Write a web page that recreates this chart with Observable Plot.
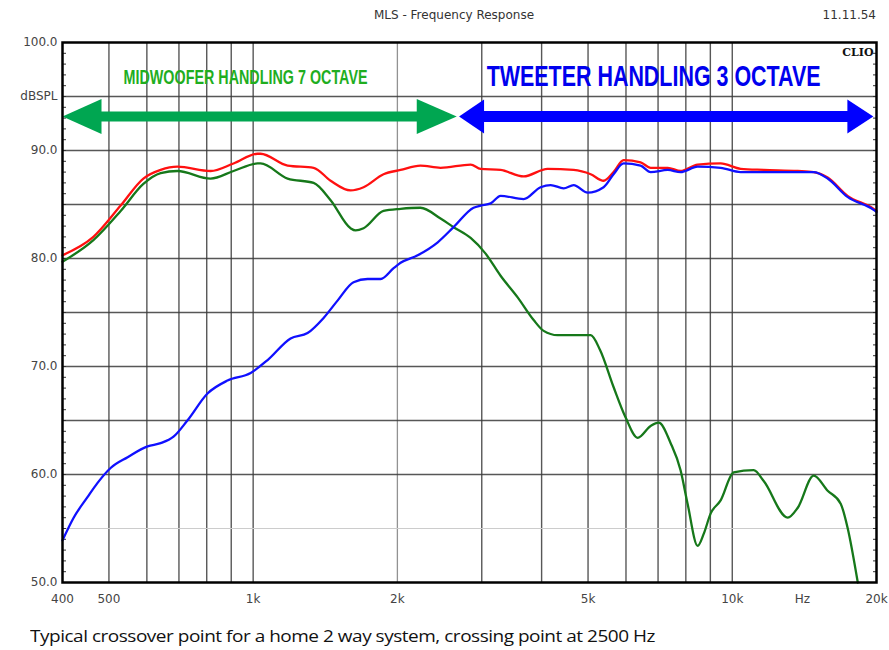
<!DOCTYPE html>
<html>
<head>
<meta charset="utf-8">
<script src="https://cdn.jsdelivr.net/npm/d3@7"></script>
<script src="https://cdn.jsdelivr.net/npm/@observablehq/plot@0.6"></script>
<style>
  html, body { margin: 0; padding: 0; background: #fff; }
  #wrap { position: relative; width: 889px; height: 650px; overflow: hidden; }
  #title { position: absolute; top: 8px; left: 454px; transform: translateX(-50%); font: 12px "DejaVu Sans", sans-serif; color: #333; white-space: nowrap; }
  #date { position: absolute; top: 8px; right: 13px; font: 12px "DejaVu Sans", sans-serif; color: #333; }
  #chart { position: absolute; top: 26px; left: 0; }
  #caption { position: absolute; top: 625px; left: 30px; font: 16px "Open Sans", sans-serif; color: #111; white-space: nowrap; letter-spacing: -0.4px; transform-origin: 0 0; }
</style>
</head>
<body>
<div id="wrap">
  <div id="title">MLS - Frequency Response</div>
  <div id="date">11.11.54</div>
  <div id="chart"></div>
  <div id="caption">Typical crossover point for a home 2 way system, crossing point at 2500 Hz</div>
</div>
<script>
// ---- Data ----
const redFreq = [400, 464, 529, 590, 641, 695, 815, 910, 1021, 1036, 1180, 1337, 1451, 1597, 1700, 1871, 2031, 2234, 2461, 2844, 2984, 3284, 3669, 4117, 4665, 5064, 5388, 5652, 5932, 6437, 6756, 7333, 7800, 8467, 9456, 10411, 11631, 13690, 14788, 15815, 17400, 19730, 20000];
const redDb   = [80.3, 82.0, 84.9, 87.4, 88.2, 88.5, 88.1, 88.8, 89.7, 89.7, 88.6, 88.4, 87.2, 86.3, 86.6, 87.8, 88.2, 88.6, 88.4, 88.7, 88.3, 88.2, 87.6, 88.3, 88.2, 87.8, 87.2, 88.0, 89.1, 88.9, 88.4, 88.4, 88.1, 88.7, 88.8, 88.3, 88.2, 88.1, 88.0, 87.5, 85.8, 84.6, 84.4];

const midFreq = [400, 464, 529, 590, 641, 695, 815, 910, 1021, 1036, 1180, 1337, 1451, 1597, 1636, 1700, 1871, 2031, 2234, 2461, 2620, 2844, 3050, 3284, 3565, 3850, 4039, 4320, 5064, 5300, 5652, 5987, 6346, 6756, 7021, 7437, 7800, 8067, 8467, 8717, 9015, 9456, 10068, 11082, 11631, 13052, 13690, 14788, 15815, 16838, 17400, 18280];
const midDb   = [79.7, 81.7, 84.4, 86.9, 87.9, 88.1, 87.4, 88.1, 88.8, 88.8, 87.4, 87.0, 85.4, 82.8, 82.6, 82.8, 84.4, 84.6, 84.7, 83.7, 82.9, 81.9, 80.5, 78.4, 76.4, 74.3, 73.3, 72.9, 72.9, 71.5, 68.1, 65.3, 63.4, 64.5, 64.8, 62.9, 60.4, 57.3, 53.4, 54.5, 56.4, 57.6, 60.2, 60.4, 59.4, 56.0, 56.9, 59.9, 58.5, 57.3, 55.1, 50.0];

const twFreq = [400, 422, 451, 473, 504, 547, 602, 641, 682, 729, 803, 884, 988, 1072, 1197, 1299, 1403, 1500, 1620, 1733, 1845, 1964, 2031, 2205, 2428, 2620, 2884, 2984, 3131, 3284, 3669, 3980, 4178, 4447, 4665, 4991, 5388, 5652, 5932, 6437, 6756, 7333, 7800, 8467, 9456, 10411, 11631, 14788, 15815, 17400, 19730, 20000];
const twDb   = [53.9, 56.0, 57.9, 59.2, 60.6, 61.6, 62.6, 62.9, 63.5, 65.0, 67.5, 68.7, 69.4, 70.6, 72.6, 73.1, 74.5, 76.1, 77.8, 78.1, 78.1, 79.1, 79.6, 80.3, 81.5, 82.9, 84.7, 84.9, 85.1, 85.8, 85.5, 86.6, 86.8, 86.5, 86.8, 86.1, 86.6, 87.8, 88.8, 88.6, 88.0, 88.2, 88.0, 88.5, 88.4, 88.0, 88.0, 88.0, 87.4, 85.7, 84.5, 84.3];

// axis ticks and grid
const xTickValues = [400, 500, 1000, 2000, 5000, 10000, 14000, 20000];
const xTickLabels = ["400", "500", "1k", "2k", "5k", "10k", "Hz", "20k"];
const xGrid = [500, 600, 700, 800, 900, 1000, 3000, 4000, 5000, 6000, 7000, 8000, 9000, 10000];
const xGridLight = [2000];
const yGrid = [60, 65, 70, 75, 80, 85, 90, 95];
const yGridLight = [55];
const yTickValues = [50, 60, 70, 80, 90, 95, 100];
const yTickLabels = ["50.0", "60.0", "70.0", "80.0", "90.0", "dBSPL", "100.0"];
const yMinor = d3.range(50, 101, 1);

// arrow annotations
const arrowNames = ["MIDWOOFER HANDLING 7 OCTAVE", "TWEETER HANDLING 3 OCTAVE"];
const arrowFrom = [400, 2690];
const arrowTo = [2660, 19700];
const arrowDb = [93.15, 93.15];
const labelFreq = [964, 6852];
const labelDb = [96.7, 96.8];

// ---- Build tables ----
const series = [
  ...redFreq.map((f, i) => ({f, db: redDb[i], s: "sum"})),
  ...midFreq.map((f, i) => ({f, db: midDb[i], s: "mid"})),
  ...twFreq.map((f, i) => ({f, db: twDb[i], s: "tw"}))
];
const arrows = arrowNames.map((name, i) => ({name, from: arrowFrom[i], to: arrowTo[i], db: arrowDb[i], lf: labelFreq[i], ldb: labelDb[i]}));

function head(L, H, dir) {
  return {draw(ctx) {
    ctx.moveTo(0, 0);
    ctx.lineTo(dir * L, -H / 2);
    ctx.lineTo(dir * L, H / 2);
    ctx.closePath();
  }};
}
const greenArrow = "#00a651";
const blueArrow = "#0000ff";

const chart = Plot.plot({
  width: 889,
  height: 586,
  marginLeft: 62,
  marginRight: 13,
  marginTop: 16,
  marginBottom: 30,
  style: {fontFamily: "DejaVu Sans, sans-serif", fontSize: "12px", color: "#333", background: "white"},
  x: {type: "log", domain: [400, 20000]},
  y: {domain: [50, 100]},
  marks: [
    Plot.ruleX(xGrid, {stroke: "#3a3a3a", strokeWidth: 1.4, strokeOpacity: 0.85}),
    Plot.ruleX(xGridLight, {stroke: "#777", strokeWidth: 1.3, strokeOpacity: 0.8}),
    Plot.ruleY(yGrid, {stroke: "#3a3a3a", strokeWidth: 1.4, strokeOpacity: 0.85}),
    Plot.ruleY(yGridLight, {stroke: "#ccc", strokeWidth: 1}),
    Plot.axisY(yMinor, {anchor: "left", tickSize: -4, tickFormat: () => "", label: null, stroke: "#333"}),
    Plot.axisY(yMinor, {anchor: "right", tickSize: -4, tickFormat: () => "", label: null, stroke: "#333"}),
    Plot.axisY(yTickValues, {anchor: "left", tickSize: 0, tickPadding: 5, tickFormat: (d) => yTickLabels[yTickValues.indexOf(d)], label: null, fill: "#444"}),
    Plot.axisX(xTickValues, {anchor: "bottom", tickSize: 0, tickPadding: 12, tickFormat: (d) => xTickLabels[xTickValues.indexOf(d)], label: null, fill: "#444"}),
    // arrows
    Plot.ruleY(arrows.slice(0, 1), {y: "db", x1: "from", x2: "to", insetLeft: 34, insetRight: 34, stroke: greenArrow, strokeWidth: 10}),
    Plot.ruleY(arrows.slice(1), {y: "db", x1: "from", x2: "to", insetLeft: 20, insetRight: 20, stroke: blueArrow, strokeWidth: 11}),
    Plot.dot(arrows.slice(0, 1), {x: "from", y: "db", symbol: head(39, 35, 1), fill: greenArrow, stroke: "none", r: 1}),
    Plot.dot(arrows.slice(0, 1), {x: "to", y: "db", symbol: head(40, 35, -1), fill: greenArrow, stroke: "none", r: 1}),
    Plot.dot(arrows.slice(1), {x: "from", y: "db", symbol: head(25, 34, 1), fill: blueArrow, stroke: "none", r: 1}),
    Plot.dot(arrows.slice(1), {x: "to", y: "db", symbol: head(26, 34, -1), fill: blueArrow, stroke: "none", r: 1}),
    Plot.text(arrows.slice(0, 1), {x: "lf", y: "ldb", text: "name", fill: "#1fae1f", fontSize: 19.5, fontWeight: "bold", fontFamily: "Liberation Sans Narrow, Liberation Sans, sans-serif"}),
    Plot.text(arrows.slice(1), {x: "lf", y: "ldb", text: "name", fill: "#0000ee", fontSize: 29, fontWeight: "bold", fontFamily: "Liberation Sans Narrow, Liberation Sans, sans-serif"}),
    Plot.text(["CLIO"], {frameAnchor: "top-right", dx: -3, dy: 6, fontFamily: "DejaVu Serif, serif", fontWeight: "bold", fontSize: 11, fill: "#111", textAnchor: "end"}),
    // curves
    Plot.line(series, {filter: (d) => d.s === "sum", x: "f", y: "db", stroke: "#ff1010", strokeWidth: 2.3, curve: "monotone-x"}),
    Plot.line(series, {filter: (d) => d.s === "mid", x: "f", y: "db", stroke: "#16781a", strokeWidth: 2.3, curve: "monotone-x"}),
    Plot.line(series, {filter: (d) => d.s === "tw", x: "f", y: "db", stroke: "#1010ff", strokeWidth: 2.3, curve: "monotone-x"}),
    Plot.frame({stroke: "#000", strokeWidth: 2.5})
  ]
});
document.getElementById("chart").appendChild(chart);

// squeeze the condensed arrow captions horizontally to the reference widths
const widths = {"MIDWOOFER HANDLING 7 OCTAVE": 244, "TWEETER HANDLING 3 OCTAVE": 334};
chart.querySelectorAll("text").forEach((t) => {
  const w = widths[t.textContent];
  if (!w) return;
  const natural = t.getComputedTextLength();
  if (natural > 0) {
    const tr = t.getAttribute("transform") || "";
    t.setAttribute("transform", `${tr} scale(${(w / natural).toFixed(4)},1)`);
  }
});

// stretch the caption to the reference width
const cap = document.getElementById("caption");
const cw = cap.getBoundingClientRect().width;
if (cw > 0) cap.style.transform = `scaleX(${625 / cw})`;
</script>
</body>
</html>
